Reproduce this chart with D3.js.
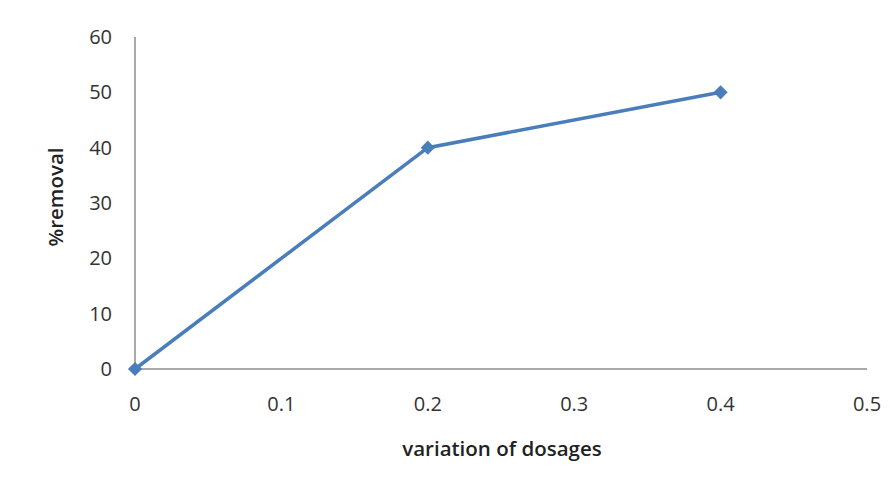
<!DOCTYPE html>
<html><head><meta charset="utf-8">
<script src="https://cdn.jsdelivr.net/npm/d3@7"></script>
<style>body{margin:0;background:#fff}svg{display:block}text{font-family:"Open Sans",sans-serif}</style>
</head><body><svg id="c" width="890" height="478"></svg>
<script>
const dosages = [0, 0.2, 0.4];
const removal = [0, 40, 50];
const xTicks = [0, 0.1, 0.2, 0.3, 0.4, 0.5];
const yTicks = [0, 10, 20, 30, 40, 50, 60];

const svg = d3.select("#c");
const x = d3.scaleLinear().domain([0, 0.5]).range([135, 867]);
const y = d3.scaleLinear().domain([0, 60]).range([369, 37]);

svg.append("line").attr("x1", x(0)).attr("x2", x(0)).attr("y1", y(60)).attr("y2", y(0))
  .attr("stroke", "#8c8c8c").attr("stroke-width", 1.5);
svg.append("line").attr("x1", x(0)).attr("x2", x(0.5)).attr("y1", y(0)).attr("y2", y(0))
  .attr("stroke", "#8c8c8c").attr("stroke-width", 1.5);

svg.append("g").selectAll("text").data(yTicks).join("text")
  .attr("x", 112).attr("y", d => y(d)).attr("dy", "0.35em").attr("text-anchor", "end")
  .attr("font-size", 20).attr("fill", "#333").text(d => d);
svg.append("g").selectAll("text").data(xTicks).join("text")
  .attr("x", d => x(d)).attr("y", 404).attr("dy", "0.35em").attr("text-anchor", "middle")
  .attr("font-size", 20).attr("fill", "#333").text(d => d);

svg.append("text").attr("x", 502).attr("y", 449).attr("dy", "0.35em").attr("text-anchor", "middle")
  .attr("font-size", 20.5).attr("font-weight", 600).attr("fill", "#222").text("variation of dosages");
svg.append("text").attr("transform", "translate(56,197) rotate(-90)").attr("dy", "0.35em")
  .attr("text-anchor", "middle").attr("font-size", 20.5).attr("font-weight", 600).attr("fill", "#222").text("%removal");

const pts = dosages.map((d, i) => [d, removal[i]]);
svg.append("path").datum(pts).attr("fill", "none").attr("stroke", "#4a7ebb").attr("stroke-width", 3.5)
  .attr("d", d3.line().x(d => x(d[0])).y(d => y(d[1])));
svg.append("g").selectAll("path").data(pts).join("path")
  .attr("transform", d => `translate(${x(d[0])},${y(d[1])}) rotate(45)`)
  .attr("d", d3.symbol().type(d3.symbolSquare).size(100)).attr("fill", "#4a7ebb");
</script></body></html>
